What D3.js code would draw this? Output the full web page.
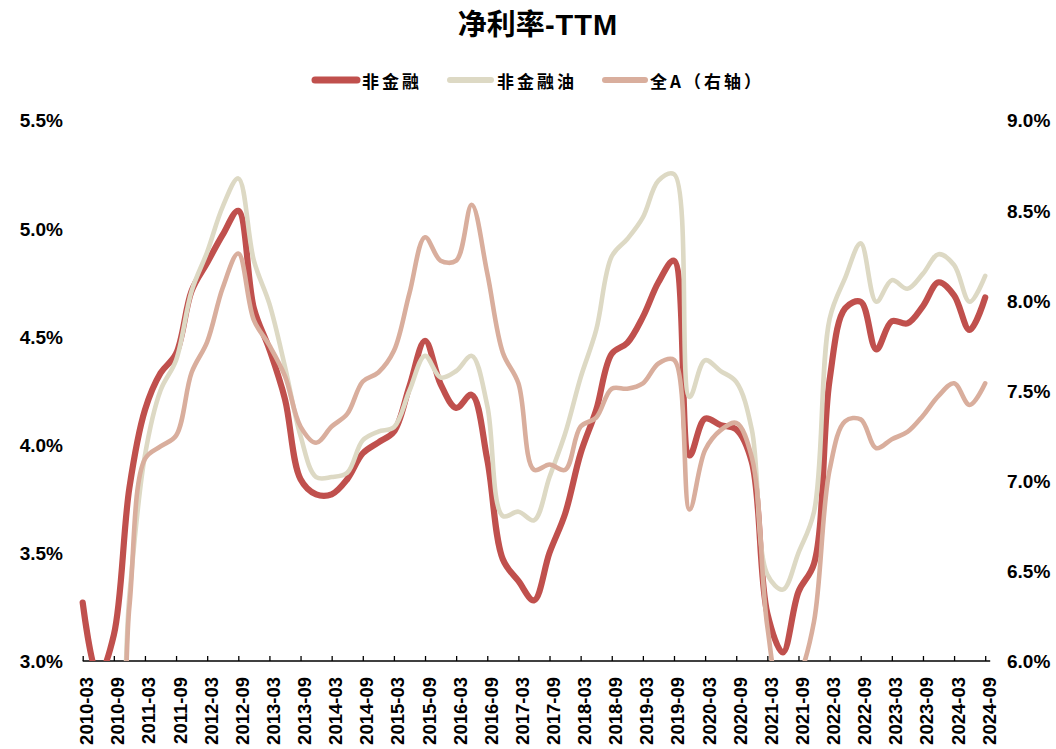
<!DOCTYPE html>
<html><head><meta charset="utf-8">
<script src="https://cdn.jsdelivr.net/npm/d3@7/dist/d3.min.js"></script>
<style>body{margin:0;background:#fff} svg{display:block}</style>
</head><body><svg id="c" width="1056" height="749"></svg>
<script>
const categories = ["2010-03","2010-06","2010-09","2010-12","2011-03","2011-06","2011-09","2011-12",
"2012-03","2012-06","2012-09","2012-12","2013-03","2013-06","2013-09","2013-12",
"2014-03","2014-06","2014-09","2014-12","2015-03","2015-06","2015-09","2015-12",
"2016-03","2016-06","2016-09","2016-12","2017-03","2017-06","2017-09","2017-12",
"2018-03","2018-06","2018-09","2018-12","2019-03","2019-06","2019-09","2019-12",
"2020-03","2020-06","2020-09","2020-12","2021-03","2021-06","2021-09","2021-12",
"2022-03","2022-06","2022-09","2022-12","2023-03","2023-06","2023-09","2023-12",
"2024-03","2024-06","2024-09"];

const nonFin = [3.27,2.93,3.12,3.80,4.16,4.33,4.42,4.71,
4.84,4.97,5.08,4.63,4.44,4.21,3.84,3.77,
3.77,3.84,3.96,4.01,4.06,4.27,4.48,4.28,
4.17,4.23,3.93,3.47,3.37,3.28,3.50,3.68,
3.96,4.16,4.42,4.47,4.59,4.75,4.85,3.95,
4.12,4.09,4.07,3.92,3.22,3.04,3.32,3.45,
4.30,4.63,4.66,4.44,4.57,4.56,4.64,4.75,
4.69,4.53,4.68];

const nonFinExOil = [2.60,2.40,2.30,3.30,3.95,4.25,4.39,4.71,
4.89,5.10,5.23,4.85,4.65,4.36,4.04,3.85,
3.85,3.87,4.02,4.06,4.08,4.25,4.41,4.31,
4.34,4.41,4.18,3.67,3.69,3.65,3.85,4.05,
4.31,4.53,4.87,4.95,5.05,5.22,5.25,4.22,
4.39,4.34,4.29,4.07,3.40,3.33,3.50,3.69,
4.58,4.77,4.93,4.66,4.76,4.72,4.79,4.88,
4.83,4.66,4.78];

const allA = [5.50,5.30,5.30,6.30,7.12,7.19,7.25,7.60,
7.77,8.07,8.26,7.89,7.75,7.58,7.30,7.21,
7.30,7.37,7.55,7.60,7.72,8.04,8.35,8.22,
8.22,8.53,8.15,7.71,7.54,7.06,7.09,7.06,
7.30,7.35,7.51,7.51,7.54,7.65,7.67,6.84,
7.17,7.28,7.32,7.13,6.19,5.75,5.90,6.22,
7.06,7.33,7.34,7.18,7.23,7.27,7.36,7.47,
7.54,7.42,7.54];

const leftTicks = [3.0,3.5,4.0,4.5,5.0,5.5];
const rightTicks = [6.0,6.5,7.0,7.5,8.0,8.5,9.0];
const seriesNames = ["非金融","非金融油","全A（右轴）"];
const titleCn = "净利率";
const titleEn = "-TTM";

const colors = ["#C0504D","#DDD9C4","#D9AE9D"];
const widths = [6.2,4.6,4.6];

const svg = d3.select("#c");
const numFont = "'Liberation Sans', Arial, sans-serif";
const cjkFont = "'Noto Sans CJK SC', sans-serif";

const x = d3.scalePoint().domain(categories).range([82.7, 985.2]);
const yL = d3.scaleLinear().domain([3.0, 5.5]).range([661, 120]);
const yR = d3.scaleLinear().domain([6.0, 9.0]).range([661, 120]);

svg.append("defs").append("clipPath").attr("id","plotclip")
  .append("rect").attr("x",0).attr("y",0).attr("width",1056).attr("height",661);

// Title
const t = svg.append("text").attr("x",538).attr("y",35).attr("text-anchor","middle")
  .attr("font-weight","bold").attr("fill","#000");
t.append("tspan").attr("font-family",cjkFont).attr("font-size",29).text(titleCn);
t.append("tspan").attr("font-family",numFont).attr("font-size",29).attr("letter-spacing",1).text(titleEn);

// Legend
const legendItems = [
  {name: seriesNames[0], x1:315, x2:357, tx:362},
  {name: seriesNames[1], x1:450, x2:491, tx:497},
  {name: seriesNames[2], x1:605, x2:645, tx:650}
];
legendItems.forEach((d,i)=>{
  svg.append("line").attr("x1",d.x1).attr("x2",d.x2).attr("y1",80).attr("y2",80)
    .attr("stroke",colors[i]).attr("stroke-width",i===0?7:6).attr("stroke-linecap","round");
  svg.append("text").attr("x",d.tx).attr("y",80).attr("dominant-baseline","central")
    .attr("font-family",cjkFont).attr("font-weight","bold").attr("font-size",17)
    .attr("letter-spacing",3).attr("fill","#000").text(d.name);
});

// X axis
const xTickVals = categories.filter((d,i)=>i%2===0);
const xAxis = d3.axisBottom(x).tickValues(xTickVals).tickSizeInner(-5).tickSizeOuter(0);
const gx = svg.append("g").attr("transform","translate(0,661)").call(xAxis);
gx.select(".domain").attr("stroke","#000").attr("stroke-width",1.3)
  .attr("d", `M${x(categories[0])},0H${x(categories[categories.length-1])+5}`);
gx.selectAll(".tick line").attr("stroke","#000").attr("stroke-width",1.3);
gx.selectAll(".tick text").attr("x",0).attr("y",0).attr("dy",null)
  .attr("transform","translate(10,16) rotate(-90)").attr("text-anchor","end")
  .attr("font-family",numFont).attr("font-weight","bold").attr("font-size",18.5).attr("fill","#000");

// Left axis (labels only)
const gl = svg.append("g").attr("transform","translate(63,0)")
  .call(d3.axisLeft(yL).tickValues(leftTicks).tickSize(0).tickPadding(0).tickFormat(d=>d.toFixed(1)+"%"));
gl.select(".domain").remove();
gl.selectAll("text").attr("font-family",numFont).attr("font-weight","bold").attr("font-size",19).attr("fill","#000").attr("dy","0.36em");

// Right axis (labels only)
const gr = svg.append("g").attr("transform","translate(1007,0)")
  .call(d3.axisRight(yR).tickValues(rightTicks).tickSize(0).tickPadding(0).tickFormat(d=>d.toFixed(1)+"%"));
gr.select(".domain").remove();
gr.selectAll("text").attr("font-family",numFont).attr("font-weight","bold").attr("font-size",19).attr("fill","#000").attr("dy","0.36em");

// Lines
const plot = svg.append("g").attr("clip-path","url(#plotclip)");
const mk = (scale)=> d3.line().x((d,i)=>x(categories[i])).y(d=>scale(d)).curve(d3.curveCatmullRom.alpha(0.5));
const seriesData = [[nonFin,yL],[nonFinExOil,yL],[allA,yR]];
seriesData.forEach(([vals,scale],i)=>{
  plot.append("path").datum(vals).attr("d",mk(scale)).attr("fill","none")
    .attr("stroke",colors[i]).attr("stroke-width",widths[i])
    .attr("stroke-linejoin","round").attr("stroke-linecap","round");
});
</script></body></html>
